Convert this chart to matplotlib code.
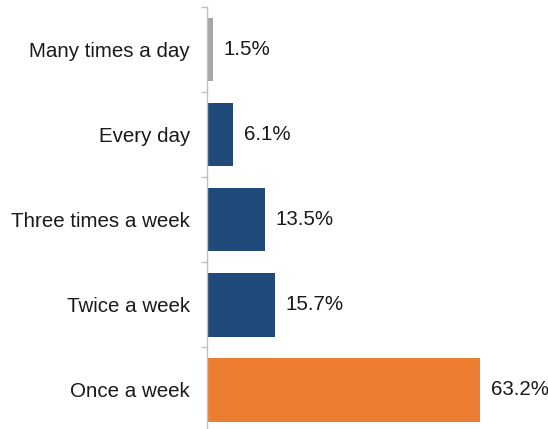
import numpy as np
import matplotlib.pyplot as plt

plt.rcParams['font.family'] = ['Liberation Sans', 'DejaVu Sans']

categories = ['Many times a day', 'Every day', 'Three times a week', 'Twice a week', 'Once a week']
shares = [1.5, 6.1, 13.5, 15.7, 63.2]
bar_colors = ['#A5A5A5', '#1F4A7A', '#1F4A7A', '#1F4A7A', '#ED7D31']

fig = plt.figure(figsize=(5.48, 4.29), dpi=100)
ax = fig.add_axes([0.3772, -0.008, 0.6228, 0.9915])

y = np.arange(len(categories))
ax.barh(y, shares, height=0.745, color=bar_colors)

for yi, v in zip(y, shares):
    ax.annotate(f'{v}%', xy=(v, yi), xytext=(7.5, 0), textcoords='offset points',
                ha='left', va='center', fontsize=14.8, color='#1a1a1a')

ax.set_xlim(0, 78.9)
ax.set_ylim(4.5, -0.5)

ax.set_yticks(y)
ax.set_yticklabels(categories, fontsize=14.8, color='#1a1a1a')
ax.tick_params(axis='y', which='major', length=0, pad=12)
ax.set_yticks(np.arange(-0.5, len(categories), 1.0), minor=True)
ax.tick_params(axis='y', which='minor', length=4.5, color='#BFBFBF', width=1)
ax.set_xticks([])

for side in ['top', 'right', 'bottom']:
    ax.spines[side].set_visible(False)
ax.spines['left'].set_color('#BFBFBF')
ax.spines['left'].set_linewidth(1)

fig.savefig('out.png', dpi=100)
